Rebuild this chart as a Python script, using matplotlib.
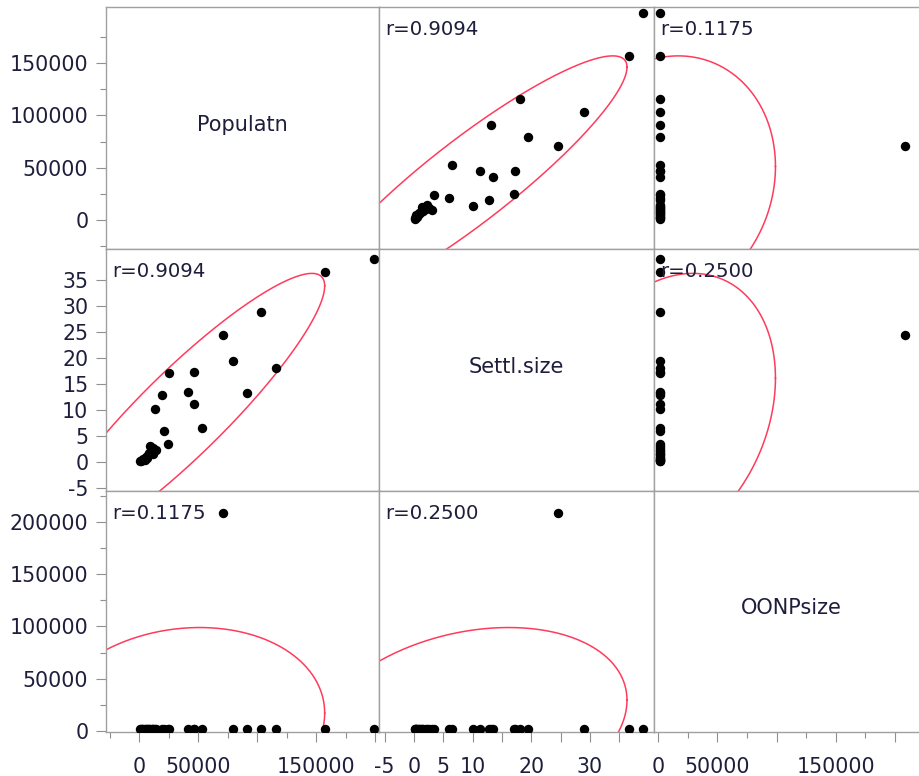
import numpy as np
import matplotlib
matplotlib.use('Agg')
import matplotlib.pyplot as plt

# ---------------- data ----------------
var_names = ['Populatn', 'Settl.size', 'OONPsize']

populatn = [157000, 198500, 103000, 70500, 79000, 116000, 25000, 46500,
            91000, 41000, 19000, 46500, 13500, 53000, 20500, 24000,
            9000, 14000, 12000, 6500, 600, 3000, 8500, 1500, 4500,
            10500, 7500, 2500, 11500, 5500]
settl_size = [36.6, 39.0, 28.9, 24.5, 19.4, 18.0, 17.1, 17.2,
              13.2, 13.5, 12.8, 11.2, 10.1, 6.4, 6.0, 3.4,
              3.0, 2.3, 1.4, 0.8, 0.1, 0.5, 1.6, 0.2, 0.4,
              2.0, 1.2, 0.3, 2.6, 0.9]
oonpsize = [1500, 1500, 1500, 208500, 1500, 1500, 1500, 1500,
            1500, 1500, 1500, 1500, 1500, 1500, 1500, 1500,
            1500, 1500, 1500, 1500, 1500, 1500, 1500, 1500, 1500,
            1500, 1500, 1500, 1500, 1500]

corr = [[1.0, 0.9094, 0.1175],
        [0.9094, 1.0, 0.2500],
        [0.1175, 0.2500, 1.0]]
corr_labels = [['', 'r=0.9094', 'r=0.1175'],
               ['r=0.9094', '', 'r=0.2500'],
               ['r=0.1175', 'r=0.2500', '']]

# density-ellipse centre and half extent of each variable
ell_center = [37000, 9.4, 6000]
ell_half = [120000, 26.9, 93000]

# axis ranges
x_lims = [(-28200, 203000), (-5.96, 40.9), (-3600, 228700)]
y_lims = [(-27900, 203800), (-5.65, 41.0), (-1250, 230000)]

# ticks
x_major = [[0, 50000, 100000, 150000, 200000],
           [-5, 0, 5, 10, 15, 20, 25, 30, 35],
           [0, 50000, 100000, 150000, 200000]]
x_major_labels = [['0', '50000', '', '150000', ''],
                  ['-5', '0', '5', '10', '', '20', '', '30', ''],
                  ['0', '50000', '', '150000', '']]
x_minor = [[-25000, 25000, 75000, 125000, 175000],
           [],
           [25000, 75000, 125000, 175000, 225000]]
y_major = [[0, 50000, 100000, 150000],
           [-5, 0, 5, 10, 15, 20, 25, 30, 35],
           [0, 50000, 100000, 150000, 200000]]
y_major_labels = [['0', '50000', '100000', '150000'],
                  ['-5', '0', '5', '10', '15', '20', '25', '30', '35'],
                  ['0', '50000', '100000', '150000', '200000']]
y_minor = [[-25000, 25000, 75000, 125000, 175000],
           [],
           [25000, 75000, 125000, 175000, 225000]]

# ---------------- layout ----------------
W, H = 919, 776
DPI = 100
col_left = [106, 379, 654]
col_w = [273, 275, 275]
row_top = [7, 249, 491]
row_h = [242, 242, 241]

TXT = '#1e1e3c'
EDGE = '#a0a0a0'
RED = '#ff3b5c'

data = [np.array(populatn, float), np.array(settl_size, float), np.array(oonpsize, float)]

fig = plt.figure(figsize=(W / DPI, H / DPI), dpi=DPI)
fig.patch.set_facecolor('white')

px = 72.0 / DPI  # points per pixel

t = np.linspace(0, 2 * np.pi, 600)

for i in range(3):        # row -> y variable
    for j in range(3):    # col -> x variable
        l = col_left[j] / W
        b = 1 - (row_top[i] + row_h[i]) / H
        ax = fig.add_axes([l, b, col_w[j] / W, row_h[i] / H])
        ax.set_xlim(*x_lims[j])
        ax.set_ylim(*y_lims[i])
        for s in ax.spines.values():
            s.set_color(EDGE)
            s.set_linewidth(1.0)

        if i == j:
            ax.annotate(var_names[i], xy=(0.5, 0.5), xycoords='axes fraction',
                        xytext=(0, -3 * px), textcoords='offset points',
                        ha='center', va='baseline', fontsize=15, color=TXT)
        else:
            ax.scatter(data[j], data[i], s=46, color='black', zorder=3,
                       linewidths=0)
            r = corr[i][j]
            ex = ell_center[j] + ell_half[j] * np.cos(t)
            ey = ell_center[i] + ell_half[i] * (r * np.cos(t) + np.sqrt(1 - r * r) * np.sin(t))
            ax.plot(ex, ey, color=RED, lw=1.1, zorder=2)
            ax.annotate(corr_labels[i][j], xy=(0, 1), xycoords='axes fraction',
                        xytext=(6 * px, -28 * px), textcoords='offset points',
                        ha='left', va='baseline', fontsize=14.2, color=TXT,
                        zorder=4)

        # ticks
        ax.tick_params(which='both', direction='out', color='#909090',
                       width=0.8, labelcolor=TXT, labelsize=14.8)
        ax.tick_params(which='major', length=10 * px)
        ax.tick_params(which='minor', length=6 * px)
        ax.tick_params(axis='y', which='major', pad=5.5)
        ax.tick_params(axis='x', which='major', pad=11)
        if i == 2:
            ax.set_xticks(x_major[j])
            ax.set_xticklabels(x_major_labels[j])
            ax.set_xticks(x_minor[j], minor=True)
        else:
            ax.set_xticks([])
            ax.set_xticks([], minor=True)
        if j == 0:
            ax.set_yticks(y_major[i])
            ax.set_yticklabels(y_major_labels[i])
            ax.set_yticks(y_minor[i], minor=True)
        else:
            ax.set_yticks([])
            ax.set_yticks([], minor=True)

fig.savefig('out.png', dpi=DPI, facecolor='white')
